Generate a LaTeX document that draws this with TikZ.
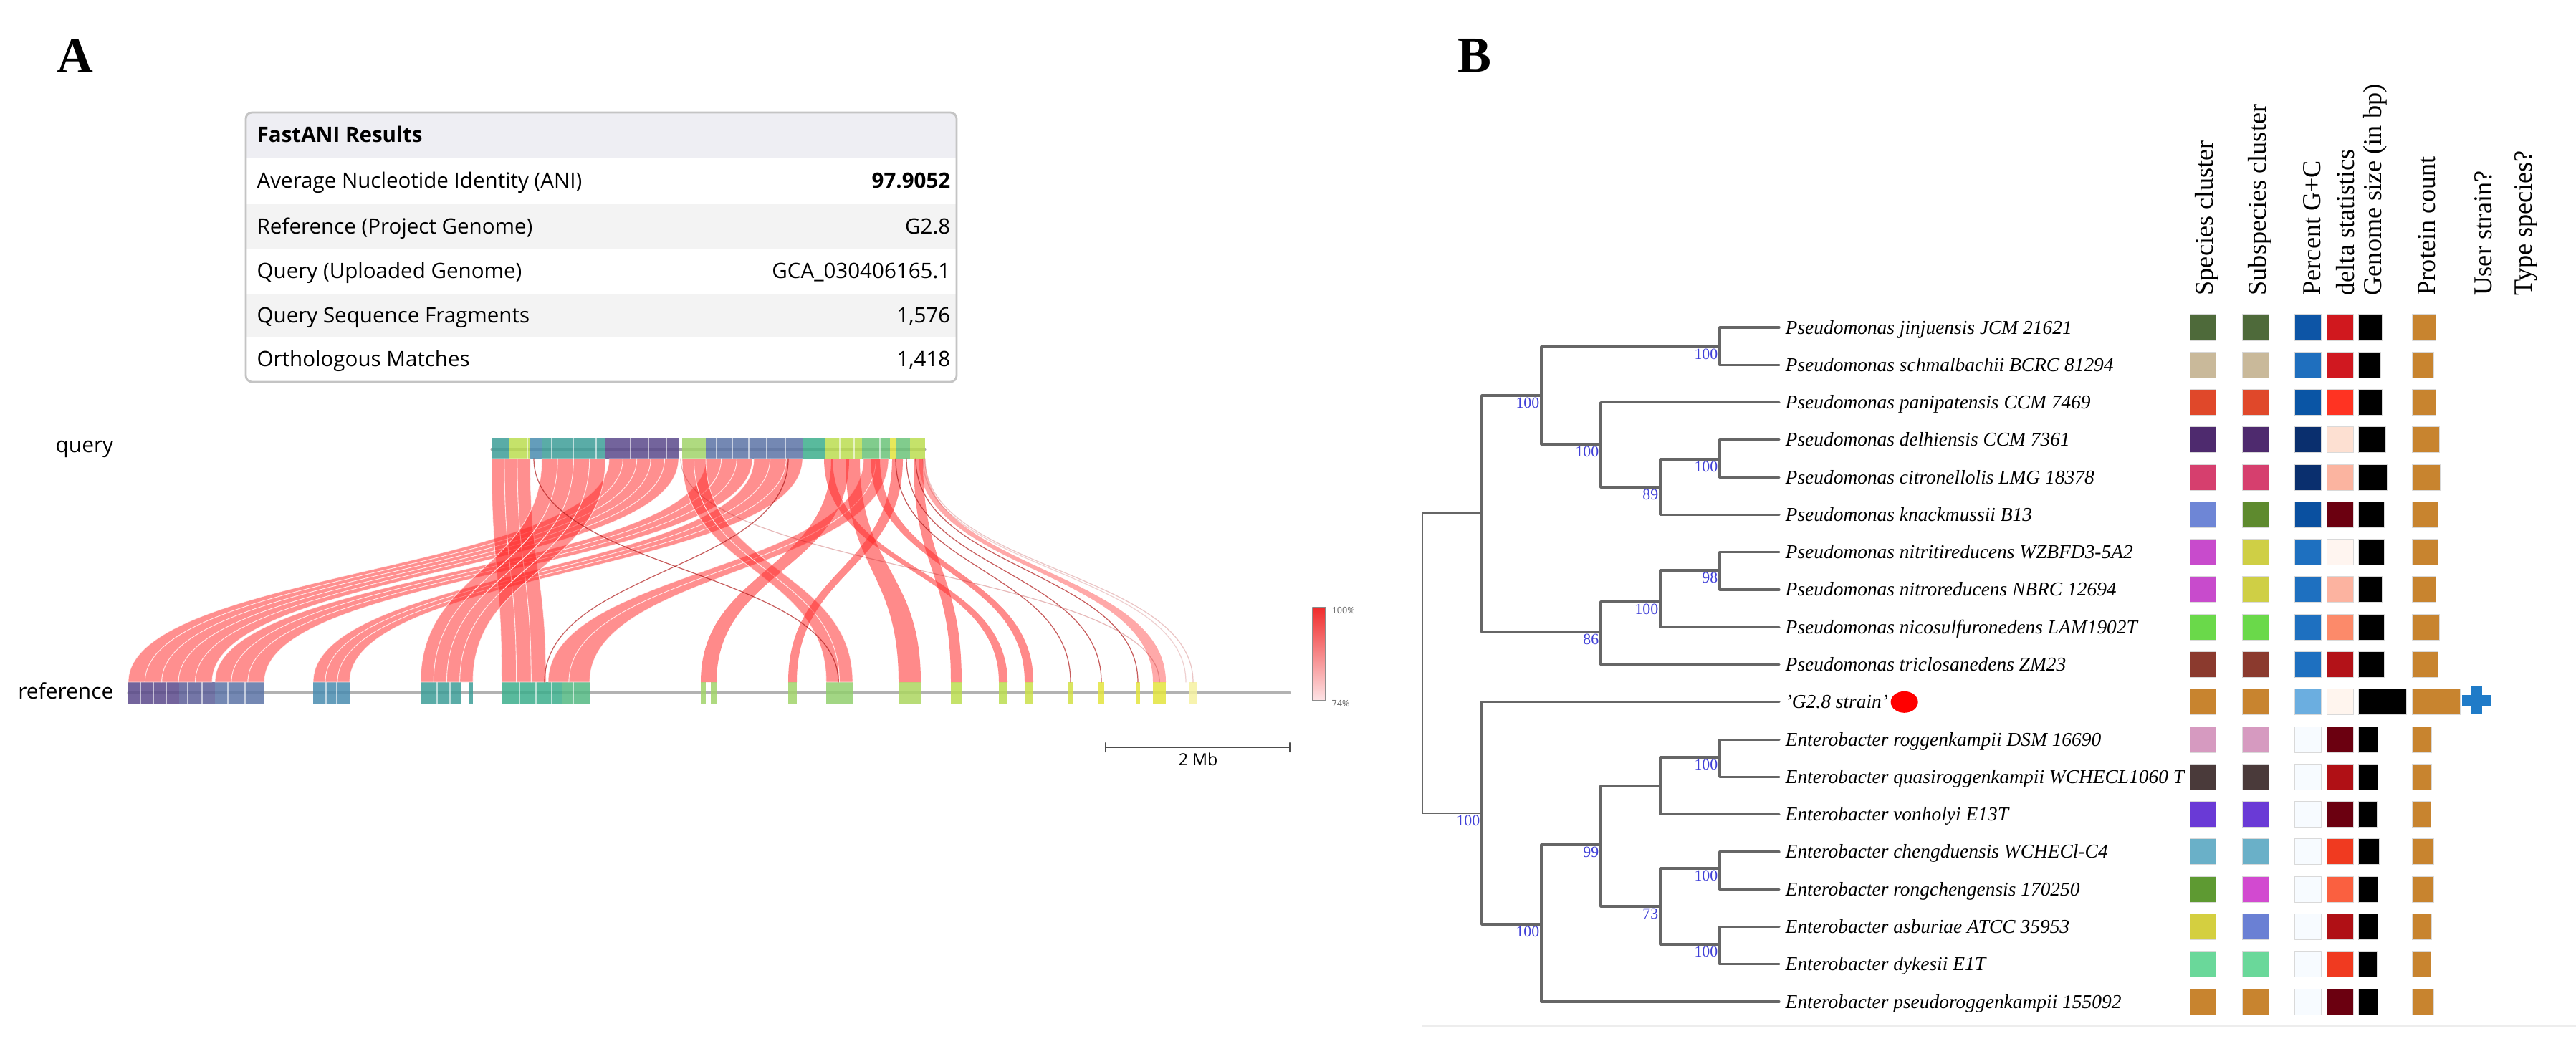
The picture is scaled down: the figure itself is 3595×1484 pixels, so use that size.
\documentclass[tikz,border=0pt]{standalone}
\usepackage{fontspec}
\setmainfont{Liberation Serif}
\newfontfamily\uifont{Open Sans}
\usepackage{xcolor}
\usetikzlibrary{calc}

\definecolor{ribbonred}{HTML}{FF2A2A}
\definecolor{linkred}{HTML}{B01818}
\definecolor{vpurple}{HTML}{5B4A8B}
\definecolor{vslate}{HTML}{5C74A6}
\definecolor{vblue}{HTML}{4A8CB0}
\definecolor{vteal}{HTML}{3E9E98}
\definecolor{vtealgr}{HTML}{3DAE8C}
\definecolor{vgreen}{HTML}{6CC47A}
\definecolor{vlgreen}{HTML}{A2D46A}
\definecolor{vygreen}{HTML}{BBDD50}
\definecolor{vyellow}{HTML}{E3E43E}
\definecolor{vpale}{HTML}{F6F2A0}
\definecolor{hdrgray}{HTML}{EEEEF3}
\definecolor{rowgray}{HTML}{F3F3F3}
\definecolor{tblline}{HTML}{C4C4C4}
\definecolor{branchgray}{HTML}{666666}
\definecolor{bootblue}{HTML}{4040D8}
\definecolor{plusblue}{HTML}{1F7BC8}
\definecolor{legtop}{HTML}{F02C2C}
\definecolor{legbot}{HTML}{FDE4E6}

\tikzset{
  tbltext/.style={font=\uifont\fontsize{8.4}{10}\selectfont, inner sep=0pt},
  seqlab/.style={font=\uifont\fontsize{8.5}{10}\selectfont, inner sep=0pt, anchor=base east},
  branch/.style={draw=branchgray, line width=0.9pt},
  boot/.style={font=\fontsize{6.2}{7}\selectfont, text=bootblue, inner sep=0.6pt},
  tiplab/.style={font=\itshape\fontsize{7.8}{9}\selectfont, anchor=base west, inner sep=0pt},
  colhead/.style={font=\fontsize{10.3}{11}\selectfont, rotate=90, anchor=west, inner sep=0pt},
  cell/.style={draw=black!15, line width=0.3pt},
  panel/.style={font=\bfseries\fontsize{20}{22}\selectfont, inner sep=0pt},
}

% one alignment band between query (y=640) and reference (y=952)
\newcommand{\ribbon}[5][0.55]{%
  \fill[ribbonred, fill opacity=#1] (#2,640) .. controls (#2,796) and (#4,796) .. (#4,952)
    -- (#5,952) .. controls (#5,796) and (#3,796) .. (#3,640) -- cycle;}
\newcommand{\bundle}[5]{%
  \foreach \k in {1,...,#5}{
    \pgfmathsetmacro\qa{#1+(#2-#1)*(\k-1)/#5}
    \pgfmathsetmacro\qb{#1+(#2-#1)*\k/#5}
    \pgfmathsetmacro\ra{#3+(#4-#3)*(\k-1)/#5}
    \pgfmathsetmacro\rb{#3+(#4-#3)*\k/#5}
    \filldraw[ribbonred, fill opacity=0.52, draw=white, draw opacity=0.7, line width=0.25pt]
      (\qa,640) .. controls (\qa,796) and (\ra,796) .. (\ra,952)
      -- (\rb,952) .. controls (\rb,796) and (\qb,796) .. (\qb,640) -- cycle;
  }}
\newcommand{\link}[3][0.7]{%
  \draw[linkred, opacity=#1, line width=0.35pt] (#2,640) .. controls (#2,796) and (#3,796) .. (#3,952);}

\begin{document}
\begin{tikzpicture}[x=0.01cm,y=-0.01cm,line cap=round,line join=round]
\fill[white] (0,0) rectangle (3595,1484);
\useasboundingbox (0,0) rectangle (3595,1484);

\node[panel] (labA) at (105,78) {A};
\node[panel] (labB) at (2058,78) {B};

% FastANI table
\fill[white] (343,157) rectangle (1335,533);
\fill[hdrgray] (344,158) rectangle (1334,220);
\fill[rowgray] (344,285) rectangle (1334,347);
\fill[rowgray] (344,410) rectangle (1334,470);
\draw[tblline, line width=0.8pt, rounded corners=2.5pt] (343,157) rectangle (1335,533);
\node[tbltext, font=\uifont\bfseries\fontsize{8.4}{10}\selectfont, anchor=base west] (thead) at (358,198) {FastANI Results};
\foreach \k/\yc/\lab/\val in {1/252/{Average Nucleotide Identity (ANI)}/{\textbf{97.9052}},
  2/316/{Reference (Project Genome)}/{G2.8}, 3/378/{Query (Uploaded Genome)}/{GCA\_030406165.1},
  4/440/{Query Sequence Fragments}/{1,576}, 5/501/{Orthologous Matches}/{1,418}}
{
  \node[tbltext, anchor=base west] (rl\k) at (358,\yc+10) {\lab};
  \node[tbltext, anchor=base east] (rv\k) at (1327,\yc+10) {\val};
}

% synteny plot
\node[seqlab] (qlab) at (159,631) {query};
\node[seqlab] (rlab) at (159,975) {reference};
\draw[black!35, line width=0.9pt] (686,627) -- (1291,627);
\draw[black!30, line width=0.9pt] (179,967) -- (1800,967);
\foreach \a/\b/\c in {686/711/vteal, 711/740/vygreen, 740/756/vblue, 756/845/vteal, 845/947/vpurple,
  952/985/vlgreen, 985/1121/vslate, 1121/1151/vtealgr, 1151/1203/vygreen, 1203/1242/vgreen,
  1242/1251/vyellow, 1251/1270/vgreen, 1270/1291/vygreen}
  \fill[\c, opacity=0.85] (\a,612) rectangle (\b,640);
\foreach \a/\b/\c in {179/250/vpurple, 250/300/{vpurple!50!vslate}, 300/369/vslate, 437/488/vblue,
  587/644/vteal, 654/660/vteal, 700/785/vtealgr, 785/823/{vtealgr!50!vgreen}, 978/985/vlgreen,
  992/1000/vlgreen, 1100/1112/vlgreen, 1153/1190/{vlgreen!70!vgreen}, 1254/1285/{vlgreen!60!vygreen},
  1327/1342/vygreen, 1394/1406/vygreen, 1430/1442/{vygreen!60!vyellow}, 1491/1497/{vygreen!40!vyellow},
  1533/1541/vyellow, 1585/1591/vyellow, 1609/1627/vyellow, 1660/1670/vpale}
  \fill[\c, opacity=0.85] (\a,952) rectangle (\b,982);
\foreach \x in {736,770,800,832,880,905,930,1000,1022,1045,1070,1096,1172,1192,1228}
  \draw[white, opacity=0.6, line width=0.3pt] (\x,612) -- (\x,640);
\foreach \x in {196,214,232,262,282,318,342,455,470,610,628,725,748,770,800}
  \draw[white, opacity=0.6, line width=0.3pt] (\x,952) -- (\x,982);

\bundle{850}{947}{179}{296}{5}
\bundle{985}{1050}{300}{369}{3}
\bundle{1052}{1120}{437}{488}{3}
\bundle{686}{740}{700}{762}{3}
\bundle{756}{845}{587}{660}{4}
\bundle{1205}{1240}{765}{823}{2}
\bundle{952}{985}{1153}{1190}{2}
\ribbon{1160}{1185}{978}{1000}
\ribbon{1245}{1260}{1100}{1112}
\ribbon{1180}{1200}{1254}{1285}
\ribbon{1275}{1288}{1327}{1342}
\ribbon{1150}{1162}{1394}{1406}
\ribbon{1215}{1228}{1430}{1442}
\ribbon[0.4]{1282}{1291}{1609}{1627}
\link{1250}{1494}
\link{1265}{1537}
\link{1278}{1588}
\link[0.25]{1291}{1665}
\link[0.2]{1288}{1655}
\link{745}{1170}
\link{1100}{760}
\link[0.3]{950}{1618}

% identity legend and scale bar
\shade[top color=legtop, bottom color=legbot] (1832,848) rectangle (1850,978);
\draw[black!45, line width=0.5pt] (1832,848) rectangle (1850,978);
\node[anchor=west, font=\uifont\fontsize{3.6}{4}\selectfont, text=black!60, inner sep=0pt] (leghi) at (1858,852) {100\%};
\node[anchor=west, font=\uifont\fontsize{3.6}{4}\selectfont, text=black!60, inner sep=0pt] (leglo) at (1858,982) {74\%};
\coordinate (sbl) at (1543,1043);
\coordinate (sbr) at (1800,1043);
\draw[black!70, line width=0.7pt] (sbl) -- (sbr);
\draw[black!70, line width=0.7pt] ($(sbl)+(0,-6)$) -- ($(sbl)+(0,6)$);
\draw[black!70, line width=0.7pt] ($(sbr)+(0,-6)$) -- ($(sbr)+(0,6)$);
\node[font=\uifont\fontsize{6.6}{8}\selectfont, anchor=base, inner sep=0pt] (sblab) at (1672,1068) {2 Mb};

% GBDP tree
\coordinate (rt) at (1985,925);
\coordinate (P) at (2068,716);
\coordinate (E) at (2068,1135);
\coordinate (P1) at (2151,552);
\coordinate (P2) at (2234,882);
\coordinate (P1a) at (2400,484);
\coordinate (P1b) at (2234,620);
\coordinate (P1c) at (2317,680);
\coordinate (P1d) at (2400,641);
\coordinate (P2a) at (2317,840);
\coordinate (P2b) at (2400,796);
\coordinate (E1) at (2151,1290);
\coordinate (E2) at (2234,1179);
\coordinate (E3) at (2317,1097);
\coordinate (E4) at (2317,1265);
\coordinate (E5) at (2400,1057);
\coordinate (E6) at (2400,1212);
\coordinate (E7) at (2400,1318);
\draw[branch, line width=0.6pt] (rt) |- (P);
\draw[branch, line width=0.6pt] (rt) |- (E);
\foreach \a/\b in {P/P1, P/P2, P1/P1a, P1/P1b, P1b/P1c, P1c/P1d, P2/P2a, P2a/P2b,
  E/E1, E1/E2, E2/E3, E2/E4, E3/E5, E4/E6, E4/E7}
  \draw[branch] (\a) |- (\b);
\foreach \i/\pn/\lab in {0/P1a/{Pseudomonas jinjuensis JCM 21621}, 1/P1a/{Pseudomonas schmalbachii BCRC 81294},
  2/P1b/{Pseudomonas panipatensis CCM 7469}, 3/P1d/{Pseudomonas delhiensis CCM 7361},
  4/P1d/{Pseudomonas citronellolis LMG 18378}, 5/P1c/{Pseudomonas knackmussii B13},
  6/P2b/{Pseudomonas nitritireducens WZBFD3-5A2}, 7/P2b/{Pseudomonas nitroreducens NBRC 12694},
  8/P2a/{Pseudomonas nicosulfuronedens LAM1902T}, 9/P2/{Pseudomonas triclosanedens ZM23},
  10/E/{{'}G2.8 strain{'}}, 11/E5/{Enterobacter roggenkampii DSM 16690},
  12/E5/{Enterobacter quasiroggenkampii WCHECL1060 T}, 13/E3/{Enterobacter vonholyi E13T},
  14/E6/{Enterobacter chengduensis WCHECl-C4}, 15/E6/{Enterobacter rongchengensis 170250},
  16/E7/{Enterobacter asburiae ATCC 35953}, 17/E7/{Enterobacter dykesii E1T},
  18/E1/{Enterobacter pseudoroggenkampii 155092}}
{
  \pgfmathsetmacro\ty{457+52.28*\i}
  \coordinate (t\i) at (2483,\ty);
  \draw[branch] (\pn) |- (t\i);
  \node[tiplab] (n\i) at ($(t\i)+(8,9)$) {\lab};
}
\foreach \nd/\bv in {P1/100, P1a/100, P1b/100, P1d/100, P1c/89, P2b/98, P2a/100, P2/86,
  E/100, E1/100, E2/99, E5/100, E4/73, E6/100, E7/100}
  \node[boot, below left] (b\nd) at (\nd) {\bv};
\fill[red] ($(n10.east |- t10)+(22,0)$) ellipse [x radius=0.19cm, y radius=0.15cm];

% column headers
\foreach \x/\t in {3080/Species cluster, 3154/Subspecies cluster, 3227/Percent G+C, 3273/delta statistics,
  3315/Genome size (in bp), 3387/Protein count, 3466/User strain?, 3525/Type species?}
  \node[colhead] (h\x) at (\x,413) {\t};

% metadata cells
\foreach \i/\ca/\cb/\cc/\cd/\gw/\pw in {0/4E6A3A/4E6A3A/0D55A6/D0181E/33/33,
  1/C9B99A/C9B99A/1F6FBE/D01820/31/30, 2/E0482A/E0482A/0A55A5/FF3322/33/33,
  3/4E2A6E/4E2A6E/0A2F6E/FDE0D2/38/38, 4/D63F6E/D63F6E/0A2F6E/FBB4A0/40/39,
  5/6E86D6/5E8A2E/0A50A0/6B0010/36/36, 6/C84BCC/CFCF45/1E70C0/FFF5F0/36/36,
  7/C84BCC/CFCF45/1E70C0/FCB3A0/33/33, 8/6AD94A/6AD94A/1E70C0/FC8A6A/36/38,
  9/8B3A2E/8B3A2E/1E70C0/B31218/36/36, 10/C8842F/C8842F/6BAEE0/FFF5EE/67/67,
  11/D69AC0/D69AC0/F7FBFF/6B0010/27/27, 12/4A3A3A/4A3A3A/F7FBFF/B01015/27/27,
  13/6A3AD6/6A3AD6/F7FBFF/6B0010/26/26, 14/6AB0C8/6AB0C8/F7FBFF/F03A20/29/30,
  15/5E9A32/D24AD0/F7FBFF/FA6040/27/30, 16/D4CF40/6A80D4/F7FBFF/B01015/27/27,
  17/6AD89A/6AD89A/F7FBFF/F03A20/26/26, 18/C8842F/C8842F/F7FBFF/6B0010/27/30}
{
  \pgfmathsetmacro\ty{457+52.28*\i-18}
  \definecolor{sqa}{HTML}{\ca}
  \definecolor{sqb}{HTML}{\cb}
  \definecolor{sqc}{HTML}{\cc}
  \definecolor{sqd}{HTML}{\cd}
  \path[cell, fill=sqa] (3056,\ty) rectangle ++(36,36);
  \path[cell, fill=sqb] (3129,\ty) rectangle ++(37,36);
  \path[cell, fill=sqc] (3202,\ty) rectangle ++(37,36);
  \path[cell, fill=sqd] (3247,\ty) rectangle ++(37,36);
  \path[cell, fill=black] (3291,\ty) rectangle ++(\gw,36);
  \path[cell, fill={rgb,255:red,200;green,132;blue,47}] (3366,\ty) rectangle ++(\pw,36);
}
% user strain mark
\fill[plusblue] (3436,970) rectangle (3477,986);
\fill[plusblue] (3449,958) rectangle (3464,997);
\draw[black!7, line width=0.5pt] (1985,1432) -- (3595,1432);
\end{tikzpicture}
\end{document}
